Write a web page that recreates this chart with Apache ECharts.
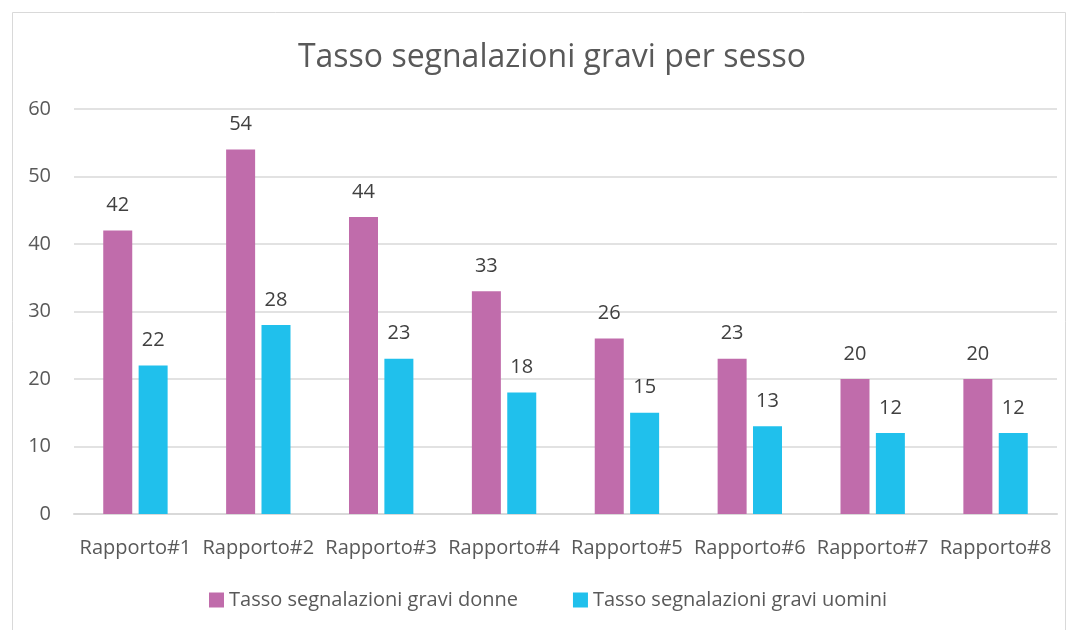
<!DOCTYPE html>
<html>
<head>
<meta charset="utf-8">
<script src="https://cdn.jsdelivr.net/npm/echarts@6/dist/echarts.min.js"></script>
<style>
html,body{margin:0;padding:0;background:#fff;}
#c{width:1071px;height:630px;}
</style>
</head>
<body>
<div id="c"></div>
<script>
const categories = ['Rapporto#1','Rapporto#2','Rapporto#3','Rapporto#4','Rapporto#5','Rapporto#6','Rapporto#7','Rapporto#8'];
const donne = [42, 54, 44, 33, 26, 23, 20, 20];
const uomini = [22, 28, 23, 18, 15, 13, 12, 12];
const seriesNames = ['Tasso segnalazioni gravi donne', 'Tasso segnalazioni gravi uomini'];
const yTicks = {min: 0, max: 60, interval: 10};

const FONT = '"Open Sans", sans-serif';
const chart = echarts.init(document.getElementById('c'), null, {renderer: 'canvas'});
const labelStyle = {show: true, position: 'top', distance: 15, color: '#404040', fontSize: 20, fontFamily: FONT};
chart.setOption({
  animation: false,
  backgroundColor: '#fff',
  graphic: [{
    type: 'rect', left: 10, top: 10, silent: true,
    shape: {width: 1053, height: 640},
    style: {fill: 'none', stroke: '#D9D9D9', lineWidth: 1}
  }],
  title: {
    text: 'Tasso segnalazioni gravi per sesso',
    left: 547, top: 37, textAlign: 'center',
    textStyle: {color: '#595959', fontSize: 32, fontWeight: 'normal', fontFamily: FONT}
  },
  legend: {
    top: 585, left: 204, itemWidth: 15, itemHeight: 15, itemGap: 55,
    icon: 'rect',
    textStyle: {color: '#595959', fontSize: 20, fontFamily: FONT},
    data: seriesNames
  },
  grid: {left: 74, right: 14, top: 109, bottom: 116},
  xAxis: {
    type: 'category', data: categories,
    axisLine: {lineStyle: {color: '#D9D9D9', width: 2}},
    axisTick: {show: false},
    axisLabel: {color: '#595959', fontSize: 20, fontFamily: FONT, margin: 24, interval: 0}
  },
  yAxis: {
    type: 'value', min: yTicks.min, max: yTicks.max, interval: yTicks.interval,
    axisLine: {show: false}, axisTick: {show: false},
    splitLine: {lineStyle: {color: '#D9D9D9', width: 1.5}},
    axisLabel: {color: '#595959', fontSize: 20, fontFamily: FONT, margin: 23}
  },
  series: [
    {name: seriesNames[0], type: 'bar', data: donne, barWidth: 29, barGap: '22%',
     itemStyle: {color: '#C06CAB'}, label: labelStyle},
    {name: seriesNames[1], type: 'bar', data: uomini, barWidth: 29,
     itemStyle: {color: '#20C0EC'}, label: labelStyle}
  ]
});
</script>
</body>
</html>
